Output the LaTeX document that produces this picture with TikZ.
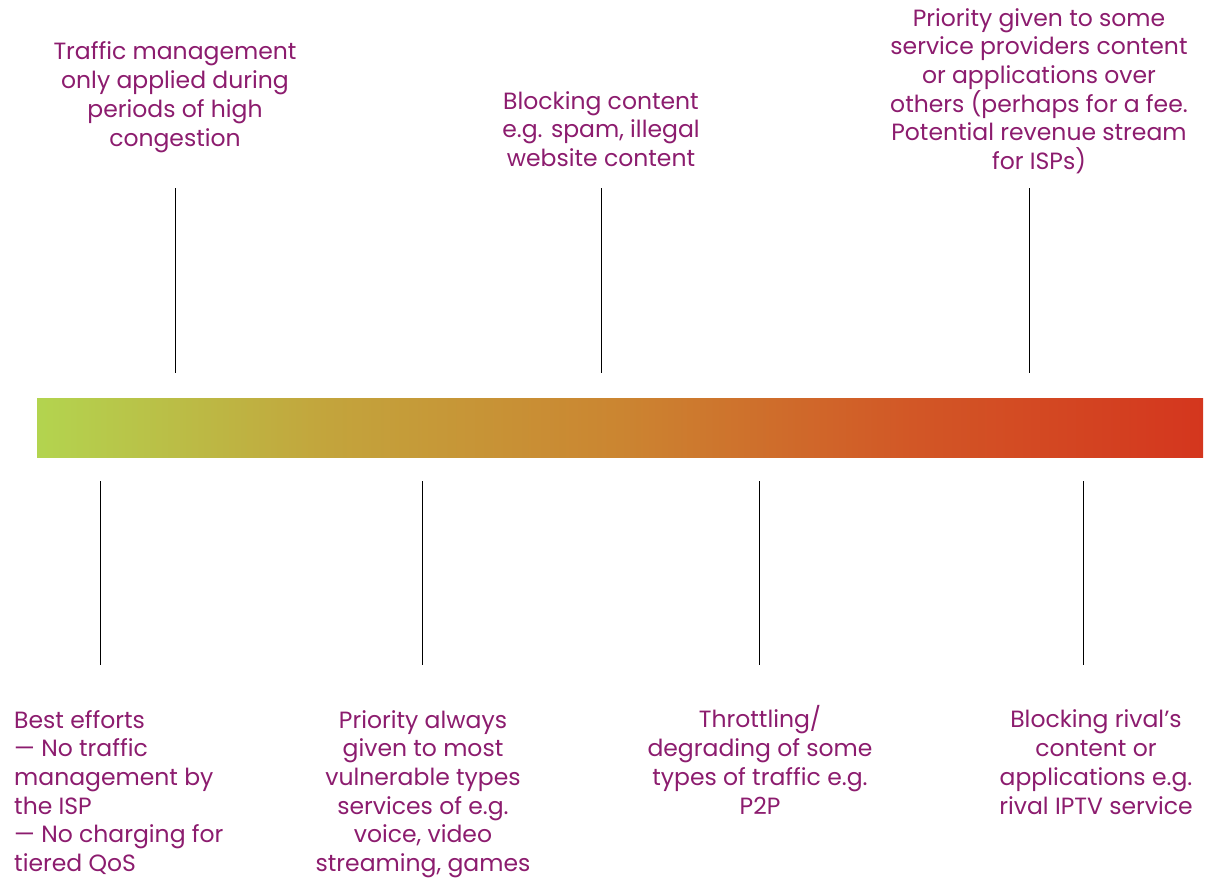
\documentclass[tikz,border=0pt]{standalone}
\usepackage{fontspec}
\setmainfont{Poppins}
\definecolor{labelpurple}{HTML}{8C1C6E}
\definecolor{barA}{HTML}{B3D44F}
\definecolor{barB}{HTML}{C3A43C}
\definecolor{barC}{HTML}{CB8531}
\definecolor{barD}{HTML}{D25726}
\definecolor{barE}{HTML}{D4361E}
% the visible part of a horizontal shading runs from 25bp to 75bp
\pgfdeclarehorizontalshading{spectrum}{100bp}{
  color(0bp)=(barA); color(25bp)=(barA); color(37.5bp)=(barB);
  color(50bp)=(barC); color(62.5bp)=(barD); color(75bp)=(barE);
  color(100bp)=(barE)}
\begin{document}
\begin{tikzpicture}[x=1pt,y=-1pt,
  lbl/.style={text=labelpurple, inner sep=0pt, anchor=base, align=center,
    font=\fontsize{23.5}{28.7}\selectfont},
  lblleft/.style={lbl, align=left, anchor=base west},
  tick/.style={draw=black, line width=0.8pt}]
\useasboundingbox (0,0) rectangle (1208,878);

% gradient bar
\shade[shading=spectrum] (37,398) rectangle (1203,457);

% tick ends above the bar
\coordinate (t1a) at (175,188); \coordinate (t1b) at (175,373);
\coordinate (t2a) at (601,188); \coordinate (t2b) at (601,373);
\coordinate (t3a) at (1029,188); \coordinate (t3b) at (1029,373);
% tick ends below the bar
\coordinate (b1a) at (100,481); \coordinate (b1b) at (100,665);
\coordinate (b2a) at (422,481); \coordinate (b2b) at (422,665);
\coordinate (b3a) at (759,481); \coordinate (b3b) at (759,665);
\coordinate (b4a) at (1083,481); \coordinate (b4b) at (1083,665);

\foreach \p in {t1,t2,t3,b1,b2,b3,b4} \draw[tick] (\p a) -- (\p b);

% labels above (positioned at the baseline of their last line)
\node[lbl] (lt1) at (175,146) {Traffic management\\only applied during\\periods of high\\congestion};
\node[lbl] (lt2) at (601,166.5) {Blocking content\\e.g. spam, illegal\\website content};
\node[lbl] (lt3) at (1039,169.5) {Priority given to some\\service providers content\\or applications over\\others (perhaps for a fee.\\Potential revenue stream\\for ISPs)};

% labels below
\node[lblleft] (lb1) at (14,871.5) {Best efforts\\— No traffic\\management by\\the ISP\\— No charging for\\tiered QoS};
\node[lbl] (lb2) at (423,871.5) {Priority always\\given to most\\vulnerable types\\services of e.g.\\voice, video\\streaming, games};
\node[lbl] (lb3) at (760,814) {Throttling/\\degrading of some\\types of traffic e.g.\\P2P};
\node[lbl] (lb4) at (1096,814) {Blocking rival’s\\content or\\applications e.g.\\rival IPTV service};
\end{tikzpicture}
\end{document}
